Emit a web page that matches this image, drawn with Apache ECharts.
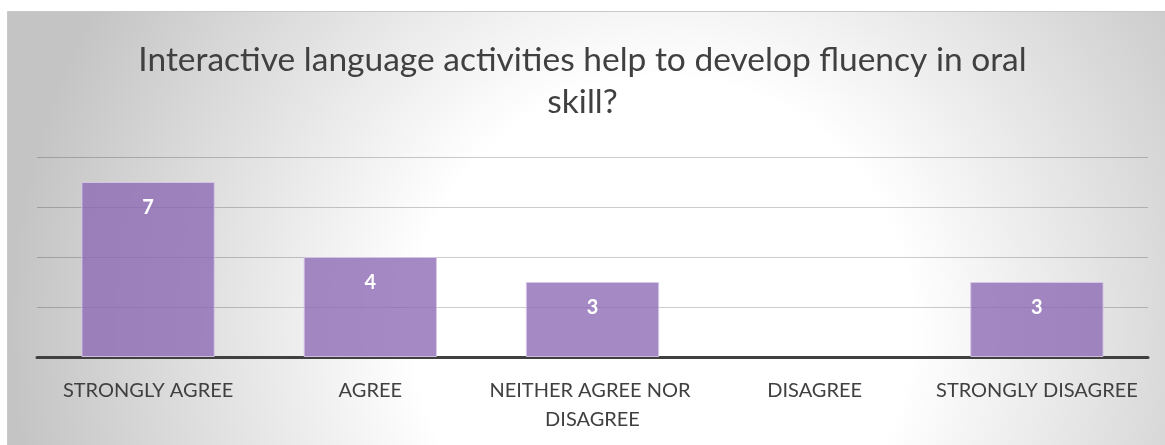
<!DOCTYPE html>
<html>
<head>
<meta charset="utf-8">
<script src="https://cdn.jsdelivr.net/npm/echarts@6/dist/echarts.min.js"></script>
<style>
html,body{margin:0;padding:0;background:#fff;}
#chart{width:1165px;height:445px;}
</style>
</head>
<body>
<div id="chart"></div>
<script>
const titleText = "Interactive language activities help to develop fluency in oral\nskill?";
const categories = ["STRONGLY AGREE", "AGREE", "NEITHER AGREE NOR DISAGREE", "DISAGREE", "STRONGLY DISAGREE"];
const values = [7, 4, 3, null, 3];
const yTicks = [0, 2, 4, 6, 8];

const FONT = "Lato";
const chart = echarts.init(document.getElementById('chart'));
chart.setOption({
  animation: false,
  graphic: [{
    type: 'rect',
    z: -10,
    shape: {x: 7.5, y: 11.5, width: 1170, height: 450},
    style: {
      fill: {
        type: 'radial', x: 0.56, y: 0.7, r: 1.45,
        colorStops: [
          {offset: 0, color: '#ffffff'},
          {offset: 0.38, color: '#ffffff'},
          {offset: 1, color: '#c4c4c4'}
        ]
      },
      stroke: '#c8c8c8', lineWidth: 1
    }
  }],
  title: {
    text: titleText,
    left: 'center',
    top: 34,
    textStyle: {fontFamily: FONT, fontSize: 33.5, fontWeight: 'normal', color: '#404040', lineHeight: 42, align: 'center'}
  },
  grid: {left: 37, right: 17, top: 157, bottom: 88, containLabel: false},
  xAxis: {
    type: 'category',
    data: categories,
    axisLine: {lineStyle: {color: '#404040', width: 3}},
    axisTick: {show: false},
    axisLabel: {
      fontFamily: FONT, fontSize: 20, color: '#404040', margin: 19, lineHeight: 29,
      interval: 0, width: 222, overflow: 'break'
    }
  },
  yAxis: {
    type: 'value',
    min: yTicks[0], max: yTicks[yTicks.length - 1], interval: 2,
    axisLine: {show: false},
    axisTick: {show: false},
    axisLabel: {show: false},
    splitLine: {lineStyle: {color: 'rgba(0,0,0,0.2)', width: 1}}
  },
  series: [{
    type: 'bar',
    data: values,
    barWidth: '60%',
    itemStyle: {color: 'rgba(140,104,180,0.78)', borderColor: 'rgba(215,200,232,0.9)', borderWidth: 1},
    label: {
      show: true, position: 'insideTop', distance: 16,
      fontFamily: FONT, fontSize: 20, fontWeight: 'bold', color: '#ffffff'
    }
  }]
});
</script>
</body>
</html>
